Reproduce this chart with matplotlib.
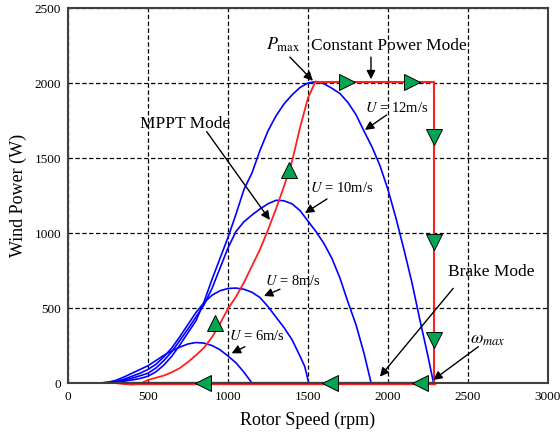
import matplotlib
matplotlib.use('Agg')
import matplotlib.pyplot as plt

plt.rcParams['font.family'] = ['Liberation Serif', 'DejaVu Serif']
plt.rcParams['mathtext.fontset'] = 'stix'

# Power curves at fixed wind speeds (rpm, W)
u6_rpm = [200, 250, 300, 350, 400, 450, 500, 550, 600, 650, 700, 750, 800, 850, 900, 950,
          1000, 1050, 1100, 1150]
u6_pw = [0, 5, 18, 40, 65, 90, 115, 150, 185, 215, 240, 260, 270, 266, 250, 222,
         180, 135, 72, 0]

u8_rpm = [200, 250, 300, 350, 400, 450, 500, 550, 600, 650, 700, 750, 800, 850, 900, 950,
          1000, 1050, 1100, 1150, 1200, 1250, 1300, 1350, 1400, 1450, 1480, 1505]
u8_pw = [0, 3, 10, 25, 45, 65, 90, 125, 175, 235, 310, 390, 470, 535, 585, 615,
         630, 633, 625, 605, 570, 510, 440, 370, 290, 180, 110, 0]

u10_rpm = [200, 250, 300, 350, 400, 450, 500, 550, 600, 650, 700, 750, 800, 850, 900, 950,
           1000, 1050, 1100, 1150, 1200, 1250, 1300, 1350, 1400, 1450, 1500, 1550, 1600,
           1650, 1700, 1750, 1800, 1850, 1895]
u10_pw = [0, 3, 8, 18, 32, 48, 65, 100, 150, 210, 285, 360, 440, 520, 630, 765,
          900, 1010, 1075, 1120, 1160, 1195, 1218, 1215, 1195, 1150, 1080, 1010, 930,
          830, 700, 540, 390, 200, 0]

u12_rpm = [200, 250, 300, 350, 400, 450, 500, 550, 600, 650, 700, 750, 800, 850, 900, 950,
           1000, 1050, 1100, 1150, 1200, 1250, 1300, 1350, 1400, 1450, 1500, 1550, 1600,
           1650, 1700, 1750, 1800, 1850, 1900, 1950, 2000, 2050, 2100, 2150, 2200, 2250, 2285]
u12_pw = [0, 2, 5, 12, 20, 30, 45, 75, 120, 180, 255, 335, 415, 540, 690, 830,
          970, 1125, 1290, 1400, 1550, 1680, 1780, 1860, 1920, 1970, 2000, 2010, 1995,
          1965, 1930, 1870, 1790, 1680, 1575, 1450, 1290, 1100, 890, 670, 420, 180, 0]

# Control trajectory: MPPT curve, constant power, brake
mppt_rpm = [290, 350, 400, 450, 500, 550, 600, 650, 700, 750, 800, 850, 900, 950, 1000,
            1050, 1100, 1150, 1200, 1250, 1300, 1350, 1400, 1450, 1500, 1545]
mppt_pw = [0, -7, -10, -5, 20, 35, 50, 72, 100, 140, 185, 235, 305, 395, 495,
           575, 670, 780, 890, 1020, 1160, 1310, 1475, 1700, 1900, 2005]
const_rpm = [1545, 2285, 2285]
const_pw = [2005, 2005, 0]
brake_rpm = [2285, 400]
brake_pw = [0, 0]

# Direction markers
up_rpm, up_pw = [922, 1383], [400, 1420]
right_rpm, right_pw = [1744, 2150], [2005, 2005]
down_rpm, down_pw = [2285, 2285, 2285], [1640, 940, 287]
left_rpm, left_pw = [846, 1637, 2200], [0, 0, 0]

xticks = [0, 500, 1000, 1500, 2000, 2500, 3000]
yticks = [0, 500, 1000, 1500, 2000, 2500]

fig = plt.figure(figsize=(5.6, 4.34), dpi=100)
ax = fig.add_axes([0.1214, 0.1175, 0.857, 0.864])

blue = '#0000FF'
red = '#FF2020'
green = '#00A651'

for r, p in [(u6_rpm, u6_pw), (u8_rpm, u8_pw), (u10_rpm, u10_pw), (u12_rpm, u12_pw)]:
    ax.plot(r, p, color=blue, lw=1.2, zorder=3)

ax.plot(mppt_rpm, mppt_pw, color=red, lw=1.3, zorder=4, clip_on=False)
ax.plot(const_rpm, const_pw, color=red, lw=1.5, zorder=4)
ax.plot(brake_rpm, brake_pw, color=red, lw=2.4, zorder=4, clip_on=False)

mk = dict(color=green, markeredgecolor='black', markeredgewidth=0.7, markersize=11,
          linestyle='none', zorder=6, clip_on=False)
ax.plot(up_rpm, up_pw, marker='^', **mk)
ax.plot(right_rpm, right_pw, marker='>', **mk)
ax.plot(down_rpm, down_pw, marker='v', **mk)
ax.plot(left_rpm, left_pw, marker='<', **mk)

ax.set_xlim(0, 3000)
ax.set_ylim(0, 2500)
ax.set_xticks(xticks)
ax.set_yticks(yticks)
ax.tick_params(length=0, labelsize=9.5, colors='black')
ax.tick_params(axis='x', pad=6)
ax.tick_params(axis='y', pad=5)
ax.grid(True, color='black', linestyle=(0, (3.5, 2)), lw=0.9)
for s in ax.spines.values():
    s.set_color('#404040')
    s.set_linewidth(1.5)
    s.set_zorder(5)

ax.set_xlabel('Rotor Speed (rpm)', fontsize=13)
ax.set_ylabel('Wind Power (W)', fontsize=13)
ax.xaxis.set_label_coords(0.5, -0.077)
ax.yaxis.set_label_coords(-0.085, 0.5)

arr = dict(arrowstyle='-|>', color='black', lw=1.0, mutation_scale=13, shrinkA=0, shrinkB=0)


def note(txt, tx, ty, start, end, size):
    ax.text(tx, ty, txt, fontsize=size, ha='center', va='center', zorder=7)
    ax.annotate('', xy=end, xytext=start, arrowprops=arr, zorder=7)


note(r'$P_{\rm max}$', 1344, 2253, (1387, 2173), (1531, 2015), 13)
note('Constant Power Mode', 2009, 2247, (1894, 2173), (1894, 2025), 12.5)
note(r'$U$ = 12m/s', 2056, 1833, (1992, 1787), (1856, 1687), 10.5)
note(r'$U$ = 10m/s', 1712, 1300, (1619, 1227), (1481, 1133), 10.5)
note('MPPT Mode', 734, 1727, (867, 1676), (1262, 1087), 12.5)
note(r'$U$ = 8m/s', 1406, 680, (1325, 625), (1225, 580), 10.5)
note(r'$U$ = 6m/s', 1184, 313, (1106, 242), (1023, 198), 10.5)
note('Brake Mode', 2647, 743, (2408, 631), (1950, 42), 12.5)
note(r'$\omega_{max}$', 2625, 293, (2565, 242), (2283, 20), 13)

fig.savefig('out.png', dpi=100)
